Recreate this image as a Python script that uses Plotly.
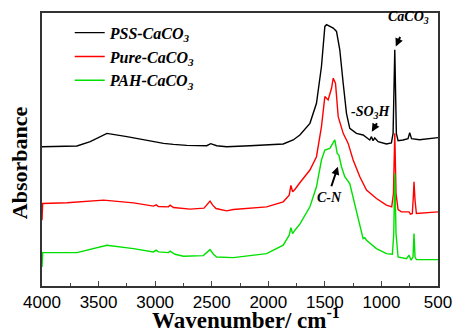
import plotly.graph_objects as go

# ---- data (wavenumber in cm^-1, absorbance in arbitrary offset units) ----
pss_wn = [4000, 3691, 3574, 3426, 3250, 3044, 2926, 2838, 2721, 2544, 2509, 2456, 2368, 2162,
          1868, 1780, 1721, 1632, 1574, 1530, 1500, 1485, 1456, 1426, 1397, 1368, 1338, 1309,
          1280, 1221, 1162, 1132, 1103, 1088, 1074, 1059, 1029, 956, 912, 897, 882, 868, 853,
          809, 765, 750, 734, 662, 500]
pss_abs = [1.390, 1.397, 1.440, 1.523, 1.490, 1.447, 1.423, 1.413, 1.403, 1.400, 1.420, 1.400,
           1.390, 1.400, 1.417, 1.457, 1.507, 1.623, 1.823, 2.190, 2.590, 2.607, 2.590, 2.573,
           2.540, 2.357, 2.023, 1.723, 1.573, 1.523, 1.507, 1.483, 1.457, 1.490, 1.450, 1.477,
           1.440, 1.417, 1.427, 1.523, 2.357, 1.523, 1.450, 1.457, 1.470, 1.530, 1.470, 1.460,
           1.480]

pure_wn = [4000, 3994, 3779, 3456, 3191, 3015, 2991, 2971, 2882, 2868, 2838, 2691, 2568, 2538,
           2515, 2491, 2462, 2368, 2309, 2015, 1868, 1815, 1800, 1785, 1765, 1721, 1632, 1574,
           1530, 1500, 1471, 1441, 1426, 1406, 1382, 1338, 1294, 1250, 1191, 1132, 1044, 956,
           909, 894, 882, 871, 853, 824, 756, 744, 727, 718, 712, 703, 691, 500]
pure_abs = [0.657, 0.823, 0.830, 0.857, 0.830, 0.797, 0.810, 0.793, 0.790, 0.807, 0.783, 0.767,
            0.777, 0.817, 0.847, 0.807, 0.773, 0.750, 0.763, 0.790, 0.840, 0.907, 1.003, 0.940,
            0.963, 1.030, 1.157, 1.290, 1.590, 1.890, 1.857, 1.973, 2.073, 2.023, 1.690, 1.523,
            1.423, 1.257, 1.090, 0.957, 0.873, 0.807, 0.790, 0.923, 1.523, 0.923, 0.763, 0.740,
            0.740, 0.717, 0.723, 0.890, 1.040, 0.857, 0.723, 0.740]

pah_wn = [4000, 3994, 3691, 3426, 3191, 3015, 2991, 2971, 2882, 2868, 2824, 2750, 2574, 2515,
          2485, 2456, 2309, 2015, 1868, 1815, 1800, 1785, 1765, 1721, 1632, 1574, 1530, 1500,
          1456, 1412, 1391, 1376, 1353, 1324, 1280, 1221, 1176, 1162, 1147, 1132, 1044, 956,
          903, 891, 882, 871, 853, 779, 756, 738, 721, 712, 703, 691, 500]
pah_abs = [0.190, 0.333, 0.333, 0.407, 0.373, 0.340, 0.357, 0.340, 0.333, 0.347, 0.317, 0.297,
           0.303, 0.363, 0.317, 0.290, 0.283, 0.323, 0.407, 0.507, 0.583, 0.523, 0.557, 0.617,
           0.790, 0.990, 1.257, 1.357, 1.373, 1.457, 1.323, 1.307, 1.190, 1.090, 1.023, 0.757,
           0.557, 0.473, 0.483, 0.457, 0.373, 0.323, 0.317, 0.523, 1.123, 0.523, 0.290, 0.273,
           0.307, 0.257, 0.290, 0.523, 0.290, 0.263, 0.263]

series_names = ["<b><i>PSS-CaCO<sub>3</sub></i></b>",
                "<b><i>Pure-CaCO<sub>3</sub></i></b>",
                "<b><i>PAH-CaCO<sub>3</sub></i></b>"]
series_colors = ["#000000", "#ff0000", "#00e000"]

x_ticks = [4000, 3500, 3000, 2500, 2000, 1500, 1000, 500]
x_tick_labels = ["4000", "3500", "3000", "2500", "2000", "1500", "1000", "500"]

# annotated bands: (wavenumber, absorbance at arrow tip, label)
band_wn = [873, 1085, 1385]
band_abs = [2.39, 1.54, 1.19]
band_labels = ["CaCO<sub>3</sub>", "-SO<sub>3</sub>H", "C-N"]

serif = "Liberation Serif"
sans = "Liberation Sans"

fig = go.Figure()
for wn, ab, name, col in zip([pss_wn, pure_wn, pah_wn], [pss_abs, pure_abs, pah_abs],
                             series_names, series_colors):
    fig.add_trace(go.Scatter(x=wn, y=ab, mode="lines", name=name,
                             line=dict(color=col, width=1.4)))

ann_font = dict(family=serif, size=14, color="black")
arrow_off = [(5, -11), (6, -10), (-7, 21)]
text_shift = [(13, 29), (-1, 19), (-8, -31)]
for wn, ab, lab, (ax, ay), (xs, ys) in zip(band_wn, band_abs, band_labels, arrow_off, text_shift):
    fig.add_annotation(x=wn, y=ab, ax=ax, ay=ay, text="", showarrow=True,
                       arrowhead=2, arrowsize=0.8, arrowwidth=2, arrowcolor="black")
    fig.add_annotation(x=wn, y=ab, xshift=xs, yshift=ys, showarrow=False,
                       text="<b><i>" + lab + "</i></b>", font=ann_font)

# axis titles as paper annotations for exact placement
fig.add_annotation(xref="paper", yref="paper", x=0.515, y=-0.12, showarrow=False,
                   xanchor="center", yanchor="middle",
                   text="<b>Wavenumber/ cm<sup>-1</sup></b>",
                   font=dict(family=serif, size=23, color="black"))
fig.add_annotation(xref="paper", yref="paper", x=-0.058, y=0.45, showarrow=False,
                   xanchor="center", yanchor="middle", textangle=-90,
                   text="<b>Absorbance</b>",
                   font=dict(family=serif, size=22, color="black"))

fig.update_layout(
    width=453, height=331,
    margin=dict(l=42, r=15, t=13, b=45, autoexpand=False),
    plot_bgcolor="white", paper_bgcolor="white",
    showlegend=True,
    legend=dict(x=0.07, y=0.99, xanchor="left", yanchor="top",
                bgcolor="rgba(0,0,0,0)", borderwidth=0,
                font=dict(family=serif, size=16, color="black"),
                tracegroupgap=0, itemwidth=30),
    xaxis=dict(range=[4000, 500], tickmode="array", tickvals=x_ticks, ticktext=x_tick_labels,
               ticks="inside", ticklen=5, tickwidth=1, tickcolor="#444",
               minor=dict(dtick=250, ticks="inside", ticklen=3, tickcolor="#444"),
               showline=True, linecolor="#333", linewidth=1.5, mirror=True,
               showgrid=False, zeroline=False,
               tickfont=dict(family=sans, size=17, color="black")),
    yaxis=dict(range=[0, 2.724], showticklabels=False, ticks="",
               showline=True, linecolor="#333", linewidth=1.5, mirror=True,
               showgrid=False, zeroline=False),
)

fig.write_html("out.html", config={"displayModeBar": False},
               post_script="document.body.style.margin='0';")
